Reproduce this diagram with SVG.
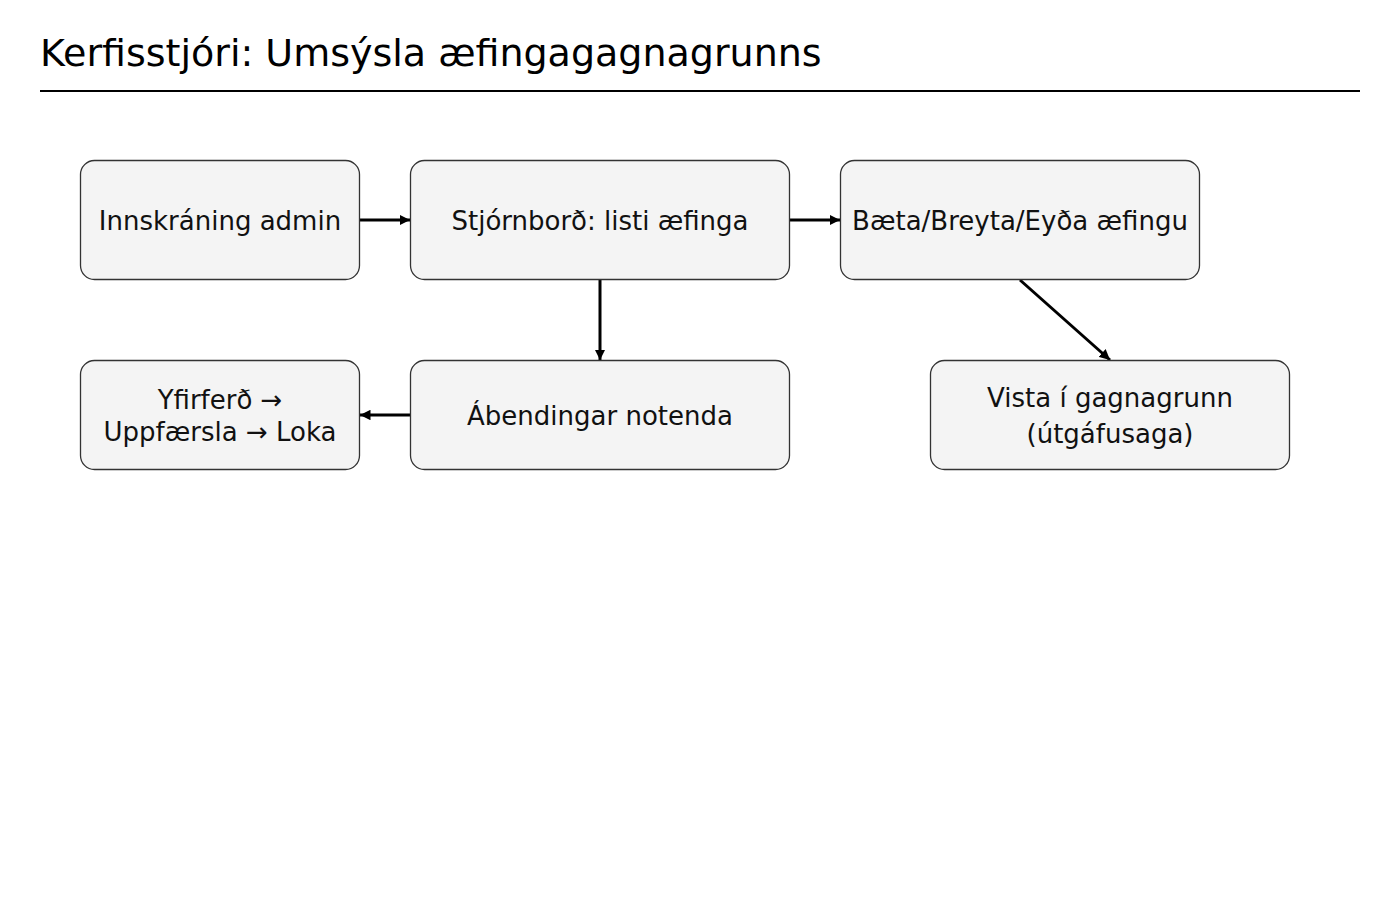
<svg xmlns="http://www.w3.org/2000/svg" width="1400" height="900" viewBox="0 0 1400 900">
<style>
.node rect{fill:#f4f4f4;stroke:#333;stroke-width:1.3}
.node text{font-family:"DejaVu Sans",sans-serif;font-size:26px;fill:#111;text-anchor:middle}
.title{font-family:"DejaVu Sans",sans-serif;font-size:38px;fill:#000}
.conn line{stroke:#000;stroke-width:3}
</style>
<defs>
<marker id="arr" viewBox="0 0 10 10" refX="10" refY="5" markerWidth="3.5" markerHeight="3.5" orient="auto" markerUnits="strokeWidth">
<path d="M0,0 L10,5 L0,10 z" fill="#000"/>
</marker>
</defs>
<rect width="1400" height="900" fill="#fff"/>
<text class="title" x="40" y="66">Kerfisstjóri: Umsýsla æfingagagnagrunns</text>
<line x1="40" y1="91" x2="1360" y2="91" stroke="#000" stroke-width="2"/>
<g class="conn">
<line x1="360" y1="220" x2="410" y2="220" marker-end="url(#arr)"/>
<line x1="790" y1="220" x2="840" y2="220" marker-end="url(#arr)"/>
<line x1="600" y1="280" x2="600" y2="360" marker-end="url(#arr)"/>
<line x1="1020" y1="280" x2="1110" y2="360" marker-end="url(#arr)"/>
<line x1="410" y1="415" x2="360" y2="415" marker-end="url(#arr)"/>
</g>
<g id="n1" class="node"><rect x="80.5" y="160.5" width="279" height="119" rx="14"/><text x="220" y="230">Innskráning admin</text></g>
<g id="n2" class="node"><rect x="410.5" y="160.5" width="379" height="119" rx="14"/><text x="600" y="230">Stjórnborð: listi æfinga</text></g>
<g id="n3" class="node"><rect x="840.5" y="160.5" width="359" height="119" rx="14"/><text x="1020" y="230">Bæta/Breyta/Eyða æfingu</text></g>
<g id="n4" class="node"><rect x="80.5" y="360.5" width="279" height="109" rx="14"/><text x="220" y="409">Yfirferð →</text><text x="220" y="441">Uppfærsla → Loka</text></g>
<g id="n5" class="node"><rect x="410.5" y="360.5" width="379" height="109" rx="14"/><text x="600" y="425">Ábendingar notenda</text></g>
<g id="n6" class="node"><rect x="930.5" y="360.5" width="359" height="109" rx="14"/><text x="1110" y="407">Vista í gagnagrunn</text><text x="1110" y="443">(útgáfusaga)</text></g>
</svg>
